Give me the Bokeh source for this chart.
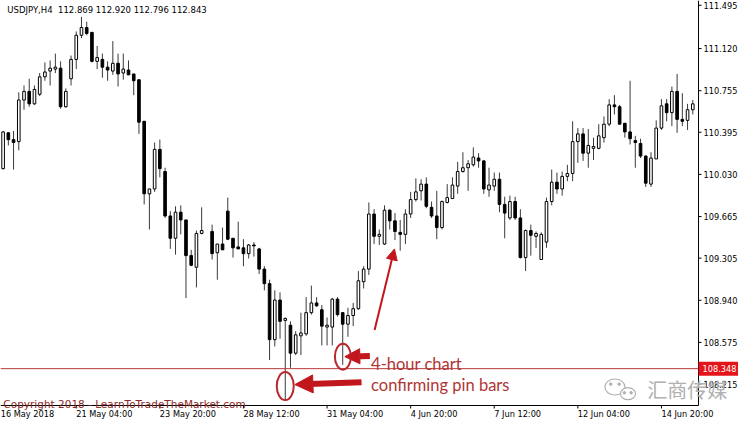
import math
from bokeh.plotting import figure
from bokeh.models import Range1d, Label, Arrow, NormalHead
from bokeh.core.properties import value
from bokeh.embed import file_html
from bokeh.resources import INLINE

NaN = float("nan")

header_text = "USDJPY,H4\u00a0 112.869 112.920 112.796 112.843"
copyright_text = "Copyright 2018 - LearnToTradeTheMarket.com"
watermark_text = "汇商传媒"

# 4-hour bars, index 0..132 (bar 39 not visible in the picture)
open_ = [110.080, 110.390, 110.331, 110.314, 110.674, 110.749, 110.641, 110.724, 110.875, 110.925,
         110.942, 110.950, 110.616, 110.858, 111.026, 111.235, 111.302, 111.260, 111.009, 111.026,
         110.959, 110.925, 110.992, 110.908, 110.934, 110.900, 110.850, 110.490, 109.862, 109.904,
         110.247, 110.055, 109.670, 109.477, 109.703, 109.636, 109.327, 109.226, 109.519, NaN,
         109.536, 109.352, 109.427, 109.712, 109.477, 109.402, 109.394, 109.344, 109.419, 109.385,
         109.210, 109.084, 108.599, 108.942, 108.766, 108.724, 108.482, 108.632, 108.649, 108.833,
         108.917, 108.858, 108.708, 108.708, 108.950, 108.833, 108.733, 108.808, 108.867, 109.101,
         109.210, 109.687, 109.494, 109.427, 109.720, 109.628, 109.528, 109.511, 109.687, 109.812,
         109.888, 109.946, 109.745, 109.670, 109.570, 109.787, 109.821, 109.929, 110.055, 110.088,
         110.113, 110.172, 110.147, 109.896, 109.929, 109.988, 109.770, 109.653, 109.795, 109.653,
         109.310, 109.544, 109.494, 109.293, 109.444, 109.795, 109.963, 109.904, 110.013, 110.038,
         110.314, 110.381, 110.214, 110.256, 110.256, 110.348, 110.465, 110.632, 110.616, 110.473,
         110.398, 110.323, 110.298, 110.189, 109.946, 110.164, 110.431, 110.641, 110.565, 110.749,
         110.507, 110.498, 110.590]
high = [110.406, 110.398, 110.406, 110.741, 110.800, 110.858, 110.800, 110.908, 111.000, 111.017,
        111.076, 111.009, 110.775, 111.059, 111.268, 111.394, 111.352, 111.260, 111.143, 111.076,
        111.009, 111.185, 111.076, 111.076, 111.017, 110.900, 110.850, 110.490, 109.904, 110.306,
        110.331, 110.088, 109.712, 109.754, 109.762, 109.636, 109.377, 109.544, 109.745, NaN,
        109.595, 109.427, 109.570, 109.829, 109.477, 109.620, 109.469, 109.427, 109.444, 109.394,
        109.235, 109.118, 109.026, 109.009, 108.791, 108.758, 108.673, 108.833, 108.967, 109.067,
        108.967, 108.900, 108.791, 108.959, 108.967, 108.833, 108.875, 108.917, 109.193, 109.235,
        109.787, 109.729, 109.553, 109.762, 109.729, 109.695, 109.636, 109.729, 109.879, 109.996,
        109.988, 110.005, 109.795, 109.888, 109.804, 109.946, 110.005, 110.139, 110.222, 110.155,
        110.264, 110.214, 110.155, 110.088, 110.046, 110.046, 109.837, 109.846, 109.837, 109.729,
        109.553, 109.595, 109.536, 109.528, 109.829, 110.072, 110.046, 110.055, 110.113, 110.490,
        110.431, 110.431, 110.423, 110.348, 110.465, 110.532, 110.682, 110.716, 110.632, 110.473,
        110.841, 110.364, 110.339, 110.197, 110.222, 110.498, 110.682, 110.682, 110.791, 110.900,
        110.733, 110.641, 110.674]
low = [110.072, 110.281, 110.072, 110.239, 110.590, 110.616, 110.632, 110.708, 110.841, 110.800,
       110.908, 110.599, 110.607, 110.800, 110.942, 111.210, 111.235, 111.000, 110.942, 110.867,
       110.841, 110.892, 110.791, 110.850, 110.892, 110.716, 110.381, 109.770, 109.553, 109.879,
       110.005, 109.653, 109.385, 109.335, 109.511, 108.959, 109.235, 109.051, 109.511, NaN,
       109.293, 109.118, 109.377, 109.461, 109.310, 109.385, 109.235, 109.302, 109.318, 109.168,
       109.026, 108.423, 108.540, 108.607, 108.080, 108.356, 108.465, 108.465, 108.632, 108.816,
       108.883, 108.549, 108.549, 108.549, 108.800, 108.381, 108.624, 108.716, 108.858, 109.042,
       109.159, 109.427, 109.419, 109.419, 109.553, 109.461, 109.369, 109.427, 109.653, 109.795,
       109.804, 109.737, 109.653, 109.469, 109.553, 109.779, 109.821, 109.862, 110.046, 109.888,
       110.097, 110.088, 109.862, 109.837, 109.888, 109.703, 109.477, 109.636, 109.636, 109.302,
       109.193, 109.327, 109.394, 109.293, 109.394, 109.762, 109.862, 109.846, 109.971, 109.971,
       110.130, 110.147, 110.088, 110.155, 110.247, 110.306, 110.448, 110.549, 110.465, 110.348,
       110.289, 110.088, 110.172, 109.921, 109.921, 110.164, 110.415, 110.490, 110.448, 110.390,
       110.448, 110.415, 110.549]
close = [110.398, 110.331, 110.306, 110.674, 110.749, 110.641, 110.766, 110.875, 110.917, 110.950,
         110.959, 110.616, 110.749, 111.026, 111.235, 111.302, 111.251, 111.009, 111.042, 110.959,
         110.934, 110.992, 110.900, 110.942, 110.892, 110.841, 110.482, 109.862, 109.904, 110.247,
         110.080, 109.670, 109.477, 109.703, 109.636, 109.327, 109.243, 109.519, 109.544, NaN,
         109.344, 109.427, 109.377, 109.469, 109.394, 109.385, 109.344, 109.419, 109.411, 109.210,
         109.084, 108.599, 108.942, 108.758, 108.783, 108.482, 108.641, 108.657, 108.833, 108.917,
         108.892, 108.716, 108.724, 108.950, 108.816, 108.733, 108.808, 108.867, 109.109, 109.210,
         109.687, 109.494, 109.511, 109.720, 109.628, 109.536, 109.511, 109.687, 109.812, 109.879,
         109.946, 109.754, 109.670, 109.570, 109.795, 109.829, 109.938, 110.055, 110.088, 110.122,
         110.180, 110.147, 109.904, 109.938, 109.988, 109.770, 109.695, 109.795, 109.653, 109.310,
         109.544, 109.503, 109.519, 109.511, 109.795, 109.963, 109.904, 110.013, 110.038, 110.314,
         110.381, 110.214, 110.281, 110.272, 110.364, 110.465, 110.632, 110.616, 110.465, 110.398,
         110.339, 110.306, 110.189, 109.954, 110.172, 110.431, 110.624, 110.565, 110.749, 110.507,
         110.490, 110.590, 110.641]

# time axis labels (bar index -> label)
time_tick_bars = [14, 30, 46, 62, 78, 94, 110, 126]
time_tick_labels = ["21 May 04:00", "23 May 20:00", "28 May 12:00", "31 May 04:00",
                    "4 Jun 20:00", "7 Jun 12:00", "12 Jun 04:00", "14 Jun 20:00"]
first_date_label = "16 May 2018"

price_ticks = [108.215, 108.575, 108.940, 109.305, 109.665, 110.030,
               110.395, 110.755, 111.120, 111.495]
support_level = 108.348

# ---------------------------------------------------------------
# chart area: bars -0.5 .. 133.1, prices 108.029 .. 111.536;
# the scale strip (right / bottom) lies inside the same canvas
X_LEFT, X_AXIS, X_RIGHT = -0.5, 133.1, 140.75
Y_FLOOR, Y_TOP, Y_BOTTOM = 108.029, 111.536, 107.899
W, H = 738, 420
PX_X = W / (X_RIGHT - X_LEFT)          # pixels per bar
PX_Y = H / (Y_TOP - Y_BOTTOM)          # pixels per yen

AXIS_FONT = value("DejaVu Sans")
RED = "#C0161C"
TEXT_RED = "#B03535"

p = figure(width=W, height=H, output_backend="svg", toolbar_location=None,
           x_range=Range1d(X_LEFT, X_RIGHT), y_range=Range1d(Y_BOTTOM, Y_TOP),
           x_axis_location=None, y_axis_location=None,
           min_border_left=0, min_border_top=0, min_border_right=0, min_border_bottom=0)
p.outline_line_color = None
p.grid.visible = False
p.background_fill_color = "white"
p.border_fill_color = "white"

up_x, up_top, up_bot = [], [], []
dn_x, dn_top, dn_bot = [], [], []
wk_x, wk_lo, wk_hi = [], [], []
for i, (o, h, l, c) in enumerate(zip(open_, high, low, close)):
    if any(math.isnan(v) for v in (o, h, l, c)):
        continue
    wk_x.append(i); wk_lo.append(l); wk_hi.append(h)
    if c >= o:
        up_x.append(i); up_top.append(c); up_bot.append(o)
    else:
        dn_x.append(i); dn_top.append(o); dn_bot.append(c)

p.segment(x0=wk_x, y0=wk_lo, x1=wk_x, y1=wk_hi, line_color="#3a3a3a", line_width=1)
p.vbar(x=up_x, top=up_top, bottom=up_bot, width=0.5, fill_color="white",
       line_color="black", line_width=1)
p.vbar(x=dn_x, top=dn_top, bottom=dn_bot, width=0.5, fill_color="black",
       line_color="black", line_width=1)

# support line across the chart area
p.segment(x0=[X_LEFT], y0=[support_level], x1=[X_AXIS], y1=[support_level],
          line_color="#B83A3A", line_width=1)

# ---- price scale (right) ----
p.segment(x0=[X_AXIS], y0=[Y_FLOOR], x1=[X_AXIS], y1=[Y_TOP], line_color="black", line_width=1)
tick_dx = 3 / PX_X
p.segment(x0=[X_AXIS] * len(price_ticks), y0=price_ticks,
          x1=[X_AXIS + tick_dx] * len(price_ticks), y1=price_ticks,
          line_color="black", line_width=1)
p.text(x=[X_AXIS] * len(price_ticks), y=price_ticks,
       text=["%.3f" % v for v in price_ticks], x_offset=5,
       text_align="left", text_baseline="middle", text_font=AXIS_FONT,
       text_font_size="8.2px", text_color="black")

# price tag for the support level
tag_half = 7 / PX_Y
p.quad(left=[X_AXIS], right=[X_RIGHT], top=[support_level + tag_half],
       bottom=[support_level - tag_half], fill_color="#E5141B", line_color=None)
p.text(x=[X_AXIS], y=[support_level], text=["%.3f" % support_level], x_offset=4,
       text_align="left", text_baseline="middle", text_font=AXIS_FONT,
       text_font_size="8.2px", text_color="white")

# ---- time scale (bottom) ----
p.segment(x0=[X_LEFT], y0=[Y_FLOOR], x1=[X_AXIS], y1=[Y_FLOOR], line_color="black", line_width=1)
tick_dy = 3 / PX_Y
p.segment(x0=time_tick_bars, y0=[Y_FLOOR] * len(time_tick_bars),
          x1=time_tick_bars, y1=[Y_FLOOR - tick_dy] * len(time_tick_bars),
          line_color="black", line_width=1)
label_y = Y_FLOOR - 4 / PX_Y
p.text(x=[X_LEFT + 0.05] + time_tick_bars, y=[label_y] * (len(time_tick_bars) + 1),
       text=[first_date_label] + time_tick_labels,
       text_align="left", text_baseline="top", text_font=AXIS_FONT,
       text_font_size="8.2px", text_color="black")

# header
p.add_layout(Label(x=0.8, y=111.456, text=header_text, text_align="left",
                   text_baseline="alphabetic", text_font="DejaVu Sans",
                   text_font_size="8.5px", text_color="black"))

# copyright
p.add_layout(Label(x=0.05, y=108.040, text=copyright_text, text_align="left",
                   text_baseline="alphabetic", text_font="DejaVu Sans",
                   text_font_size="10.5px", text_color="#8E2A2A"))

# annotations: ellipses around pin bars
p.ellipse(x=[54], y=[108.197], width=17, height=28, width_units="screen",
          height_units="screen", fill_color=None, line_color="#B8292E", line_width=2)
p.ellipse(x=[65.03], y=[108.452], width=16, height=26, width_units="screen",
          height_units="screen", fill_color=None, line_color="#B8292E", line_width=2)

p.add_layout(Arrow(end=NormalHead(size=18, fill_color=RED, line_color=RED),
                   x_start=68.6, y_start=108.231, x_end=55.85, y_end=108.210,
                   line_color=RED, line_width=6))
p.add_layout(Arrow(end=NormalHead(size=15, fill_color=RED, line_color=RED),
                   x_start=70.2, y_start=108.457, x_end=65.4, y_end=108.452,
                   line_color=RED, line_width=6))
p.add_layout(Arrow(end=NormalHead(size=11, fill_color=RED, line_color=RED),
                   x_start=71.1, y_start=108.683, x_end=74.9, y_end=109.385,
                   line_color=RED, line_width=2))

p.add_layout(Label(x=70.43, y=108.384, text="4-hour chart", text_align="left",
                   text_baseline="alphabetic", text_font="Lato", text_font_size="16.5px",
                   text_color=TEXT_RED))
p.add_layout(Label(x=70.43, y=108.203, text="confirming pin bars", text_align="left",
                   text_baseline="alphabetic", text_font="Lato", text_font_size="16.5px",
                   text_color=TEXT_RED))

# watermark (WeChat-style icon + text)
WM = "#B0B0B0"
p.ellipse(x=[117.1], y=[108.189], width=20, height=16, width_units="screen",
          height_units="screen", fill_color=None, line_color=WM, line_width=1.2)
p.ellipse(x=[119.6], y=[108.131], width=15, height=12, width_units="screen",
          height_units="screen", fill_color="white", line_color=WM, line_width=1.2)
p.scatter(x=[116.3, 117.9, 118.9, 120.2], y=[108.214, 108.214, 108.139, 108.139],
          size=2.5, color=WM)
p.add_layout(Label(x=123.3, y=108.164, text=watermark_text, text_align="left",
                   text_baseline="middle", text_font="Noto Sans CJK SC",
                   text_font_size="20px", text_color=WM))

open("out.html", "w").write(file_html(p, INLINE))
